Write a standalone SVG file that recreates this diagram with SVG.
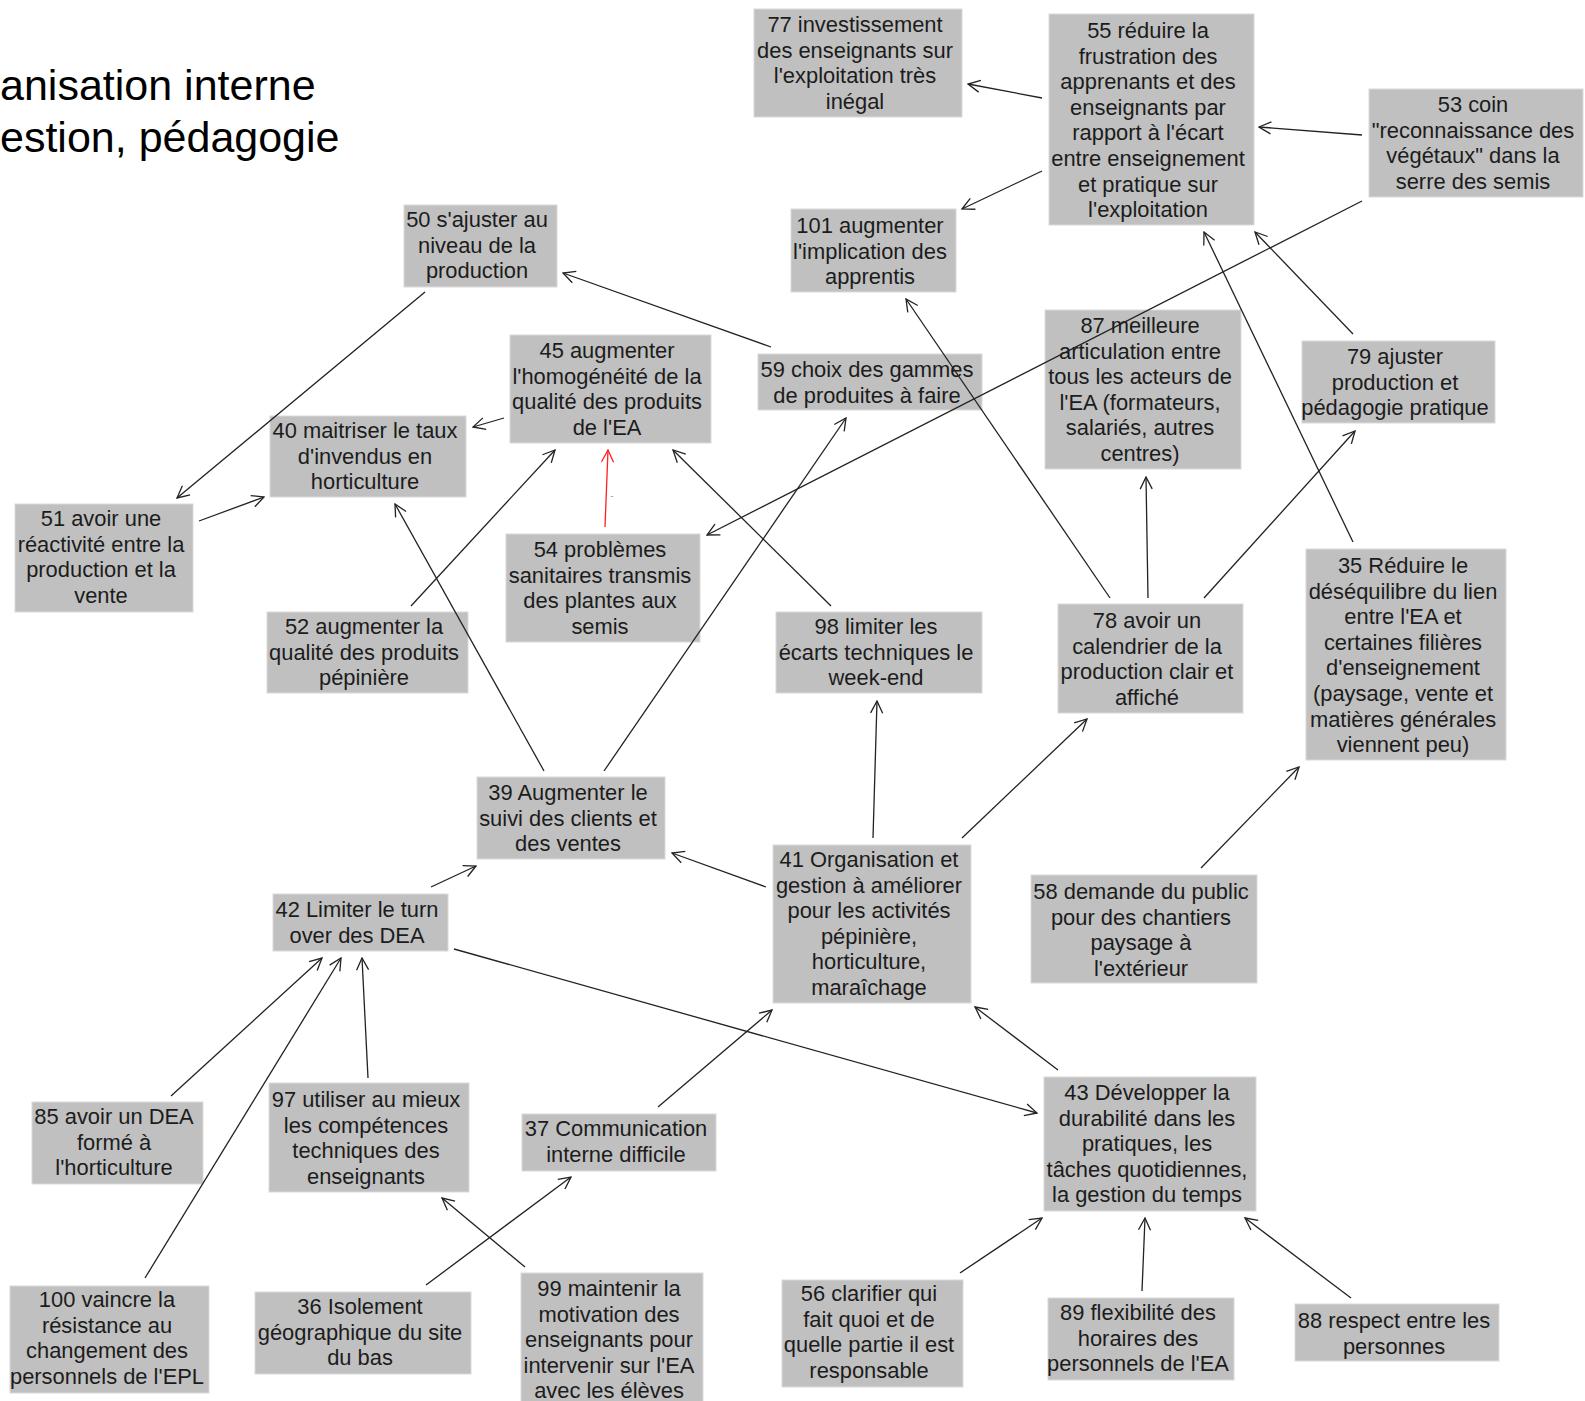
<svg xmlns="http://www.w3.org/2000/svg" width="1585" height="1401" viewBox="0 0 1585 1401">
<style>
.n rect{fill:#c0c0c0;stroke:#dadada;stroke-width:1}
.n text{font-family:"Liberation Sans",Arial,sans-serif;font-size:21.9px;fill:#1c1c1c;text-anchor:middle;transform:translate(-3px,0px)}
.title{font-family:"Liberation Sans",Arial,sans-serif;font-size:43px;fill:#000}
#edges line{stroke:#222;stroke-width:1.3;fill:none;marker-end:url(#ah)}
#edges line.red{stroke:#ff2020;marker-end:url(#ahr)}
</style>
<defs>
<marker id="ah" markerWidth="14" markerHeight="14" refX="13" refY="7" orient="auto" markerUnits="userSpaceOnUse"><path d="M1,1 L13,7 L1,13" fill="none" stroke="#222" stroke-width="1.3"/></marker>
<marker id="ahr" markerWidth="14" markerHeight="14" refX="13" refY="7" orient="auto" markerUnits="userSpaceOnUse"><path d="M1,1 L13,7 L1,13" fill="none" stroke="#ff2020" stroke-width="1.3"/></marker>
</defs>
<rect width="1585" height="1401" fill="#fff"/>
<text class="title" x="0" y="100">anisation interne</text>
<text class="title" x="0" y="152">estion, pédagogie</text>

<g id="n77" class="n"><rect x="754" y="9" width="208" height="108"/><text x="858" y="32">77 investissement</text><text x="858" y="57.6">des enseignants sur</text><text x="858" y="83.2">l'exploitation très</text><text x="858" y="108.8">inégal</text></g>
<g id="n55" class="n"><rect x="1049" y="14" width="205" height="211"/><text x="1151" y="38">55 réduire la</text><text x="1151" y="63.6">frustration des</text><text x="1151" y="89.2">apprenants et des</text><text x="1151" y="114.8">enseignants par</text><text x="1151" y="140.4">rapport à l'écart</text><text x="1151" y="166">entre enseignement</text><text x="1151" y="191.6">et pratique sur</text><text x="1151" y="217.2">l'exploitation</text></g>
<g id="n53" class="n"><rect x="1369" y="89" width="214" height="108"/><text x="1476" y="112">53 coin</text><text x="1476" y="137.6">"reconnaissance des</text><text x="1476" y="163.2">végétaux" dans la</text><text x="1476" y="188.8">serre des semis</text></g>
<g id="n50" class="n"><rect x="404" y="205" width="153" height="82"/><text x="480" y="227">50 s'ajuster au</text><text x="480" y="252.6">niveau de la</text><text x="480" y="278.2">production</text></g>
<g id="n101" class="n"><rect x="791" y="209" width="165" height="83"/><text x="873" y="233">101 augmenter</text><text x="873" y="258.6">l'implication des</text><text x="873" y="284.2">apprentis</text></g>
<g id="n45" class="n"><rect x="510" y="335" width="201" height="108"/><text x="610" y="358">45 augmenter</text><text x="610" y="383.6">l'homogénéité de la</text><text x="610" y="409.2">qualité des produits</text><text x="610" y="434.8">de l'EA</text></g>
<g id="n59" class="n"><rect x="758" y="354" width="224" height="56"/><text x="870" y="377">59 choix des gammes</text><text x="870" y="402.6">de produites à faire</text></g>
<g id="n40" class="n"><rect x="270" y="416" width="196" height="81"/><text x="368" y="438">40 maitriser le taux</text><text x="368" y="463.6">d'invendus en</text><text x="368" y="489.2">horticulture</text></g>
<g id="n87" class="n"><rect x="1045" y="310" width="196" height="159"/><text x="1143" y="333">87 meilleure</text><text x="1143" y="358.6">articulation entre</text><text x="1143" y="384.2">tous les acteurs de</text><text x="1143" y="409.8">l'EA (formateurs,</text><text x="1143" y="435.4">salariés, autres</text><text x="1143" y="461">centres)</text></g>
<g id="n79" class="n"><rect x="1302" y="341" width="193" height="82"/><text x="1398" y="364">79 ajuster</text><text x="1398" y="389.6">production et</text><text x="1398" y="415.2">pédagogie pratique</text></g>
<g id="n51" class="n"><rect x="15" y="504" width="178" height="108"/><text x="104" y="526">51 avoir une</text><text x="104" y="551.6">réactivité entre la</text><text x="104" y="577.2">production et la</text><text x="104" y="602.8">vente</text></g>
<g id="n54" class="n"><rect x="506" y="534" width="194" height="108"/><text x="603" y="557">54 problèmes</text><text x="603" y="582.6">sanitaires transmis</text><text x="603" y="608.2">des plantes aux</text><text x="603" y="633.8">semis</text></g>
<g id="n35" class="n"><rect x="1306" y="549" width="200" height="211"/><text x="1406" y="573">35 Réduire le</text><text x="1406" y="598.6">déséquilibre du lien</text><text x="1406" y="624.2">entre l'EA et</text><text x="1406" y="649.8">certaines filières</text><text x="1406" y="675.4">d'enseignement</text><text x="1406" y="701">(paysage, vente et</text><text x="1406" y="726.6">matières générales</text><text x="1406" y="752.2">viennent peu)</text></g>
<g id="n52" class="n"><rect x="267" y="612" width="201" height="81"/><text x="367" y="634">52 augmenter la</text><text x="367" y="659.6">qualité des produits</text><text x="367" y="685.2">pépinière</text></g>
<g id="n98" class="n"><rect x="776" y="612" width="206" height="81"/><text x="879" y="634">98 limiter les</text><text x="879" y="659.6">écarts techniques le</text><text x="879" y="685.2">week-end</text></g>
<g id="n78" class="n"><rect x="1058" y="604" width="185" height="109"/><text x="1150" y="628">78 avoir un</text><text x="1150" y="653.6">calendrier de la</text><text x="1150" y="679.2">production clair et</text><text x="1150" y="704.8">affiché</text></g>
<g id="n39" class="n"><rect x="477" y="777" width="188" height="82"/><text x="571" y="800">39 Augmenter le</text><text x="571" y="825.6">suivi des clients et</text><text x="571" y="851.2">des ventes</text></g>
<g id="n41" class="n"><rect x="773" y="845" width="198" height="158"/><text x="872" y="867">41 Organisation et</text><text x="872" y="892.6">gestion à améliorer</text><text x="872" y="918.2">pour les activités</text><text x="872" y="943.8">pépinière,</text><text x="872" y="969.4">horticulture,</text><text x="872" y="995">maraîchage</text></g>
<g id="n58" class="n"><rect x="1031" y="875" width="226" height="108"/><text x="1144" y="899">58 demande du public</text><text x="1144" y="924.6">pour des chantiers</text><text x="1144" y="950.2">paysage à</text><text x="1144" y="975.8">l'extérieur</text></g>
<g id="n42" class="n"><rect x="273" y="894" width="175" height="57"/><text x="360" y="917">42 Limiter le turn</text><text x="360" y="942.6">over des DEA</text></g>
<g id="n43" class="n"><rect x="1044" y="1077" width="212" height="134"/><text x="1150" y="1100">43 Développer la</text><text x="1150" y="1125.6">durabilité dans les</text><text x="1150" y="1151.2">pratiques, les</text><text x="1150" y="1176.8">tâches quotidiennes,</text><text x="1150" y="1202.4">la gestion du temps</text></g>
<g id="n85" class="n"><rect x="32" y="1102" width="171" height="82"/><text x="117" y="1124">85 avoir un DEA</text><text x="117" y="1149.6">formé à</text><text x="117" y="1175.2">l'horticulture</text></g>
<g id="n97" class="n"><rect x="269" y="1083" width="200" height="109"/><text x="369" y="1107">97 utiliser au mieux</text><text x="369" y="1132.6">les compétences</text><text x="369" y="1158.2">techniques des</text><text x="369" y="1183.8">enseignants</text></g>
<g id="n37" class="n"><rect x="522" y="1114" width="194" height="57"/><text x="619" y="1136">37 Communication</text><text x="619" y="1161.6">interne difficile</text></g>
<g id="n100" class="n"><rect x="10" y="1286" width="199" height="107"/><text x="110" y="1307">100 vaincre la</text><text x="110" y="1332.6">résistance au</text><text x="110" y="1358.2">changement des</text><text x="110" y="1383.8">personnels de l'EPL</text></g>
<g id="n36" class="n"><rect x="255" y="1292" width="216" height="82"/><text x="363" y="1314">36 Isolement</text><text x="363" y="1339.6">géographique du site</text><text x="363" y="1365.2">du bas</text></g>
<g id="n99" class="n"><rect x="521" y="1273" width="182" height="135"/><text x="612" y="1296">99 maintenir la</text><text x="612" y="1321.6">motivation des</text><text x="612" y="1347.2">enseignants pour</text><text x="612" y="1372.8">intervenir sur l'EA</text><text x="612" y="1398.4">avec les élèves</text></g>
<g id="n56" class="n"><rect x="782" y="1280" width="181" height="107"/><text x="872" y="1301">56 clarifier qui</text><text x="872" y="1326.6">fait quoi et de</text><text x="872" y="1352.2">quelle partie il est</text><text x="872" y="1377.8">responsable</text></g>
<g id="n89" class="n"><rect x="1048" y="1298" width="186" height="82"/><text x="1141" y="1320">89 flexibilité des</text><text x="1141" y="1345.6">horaires des</text><text x="1141" y="1371.2">personnels de l'EA</text></g>
<g id="n88" class="n"><rect x="1295" y="1304" width="204" height="57"/><text x="1397" y="1328">88 respect entre les</text><text x="1397" y="1353.6">personnes</text></g>

<g id="edges">
<line x1="1042" y1="98" x2="968" y2="84"/>
<line x1="1042" y1="171" x2="962" y2="209"/>
<line x1="1362" y1="135" x2="1259" y2="127"/>
<line x1="1362" y1="201" x2="707" y2="535"/>
<line x1="1353" y1="334" x2="1255" y2="232"/>
<line x1="1353" y1="542" x2="1204" y2="232"/>
<line x1="1110" y1="598" x2="906" y2="299"/>
<line x1="1148" y1="598" x2="1146" y2="477"/>
<line x1="1204" y1="598" x2="1355" y2="431"/>
<line x1="962" y1="838" x2="1087" y2="719"/>
<line x1="1201" y1="868" x2="1299" y2="767"/>
<line x1="771" y1="347" x2="563" y2="273"/>
<line x1="425" y1="292" x2="177" y2="498"/>
<line x1="504" y1="418" x2="473" y2="427"/>
<line x1="199" y1="521" x2="264" y2="497"/>
<line x1="411" y1="606" x2="555" y2="450"/>
<line class="red" x1="605" y1="527" x2="608" y2="450"/>
<line x1="831" y1="606" x2="673" y2="450"/>
<line x1="544" y1="771" x2="395" y2="504"/>
<line x1="604" y1="771" x2="846" y2="418"/>
<line x1="873" y1="838" x2="877" y2="701"/>
<line x1="766" y1="887" x2="672" y2="853"/>
<line x1="431" y1="887" x2="476" y2="866"/>
<line x1="454" y1="949" x2="1037" y2="1113"/>
<line x1="1058" y1="1070" x2="975" y2="1007"/>
<line x1="658" y1="1107" x2="772" y2="1010"/>
<line x1="171" y1="1096" x2="322" y2="958"/>
<line x1="145" y1="1278" x2="341" y2="958"/>
<line x1="368" y1="1078" x2="362" y2="958"/>
<line x1="426" y1="1285" x2="571" y2="1177"/>
<line x1="525" y1="1267" x2="442" y2="1198"/>
<line x1="960" y1="1273" x2="1042" y2="1218"/>
<line x1="1142" y1="1291" x2="1145" y2="1218"/>
<line x1="1351" y1="1298" x2="1245" y2="1218"/>
<text x="612" y="499" font-family="Liberation Sans, Arial, sans-serif" font-size="9" fill="#888" text-anchor="middle">-</text>
</g>
</svg>
